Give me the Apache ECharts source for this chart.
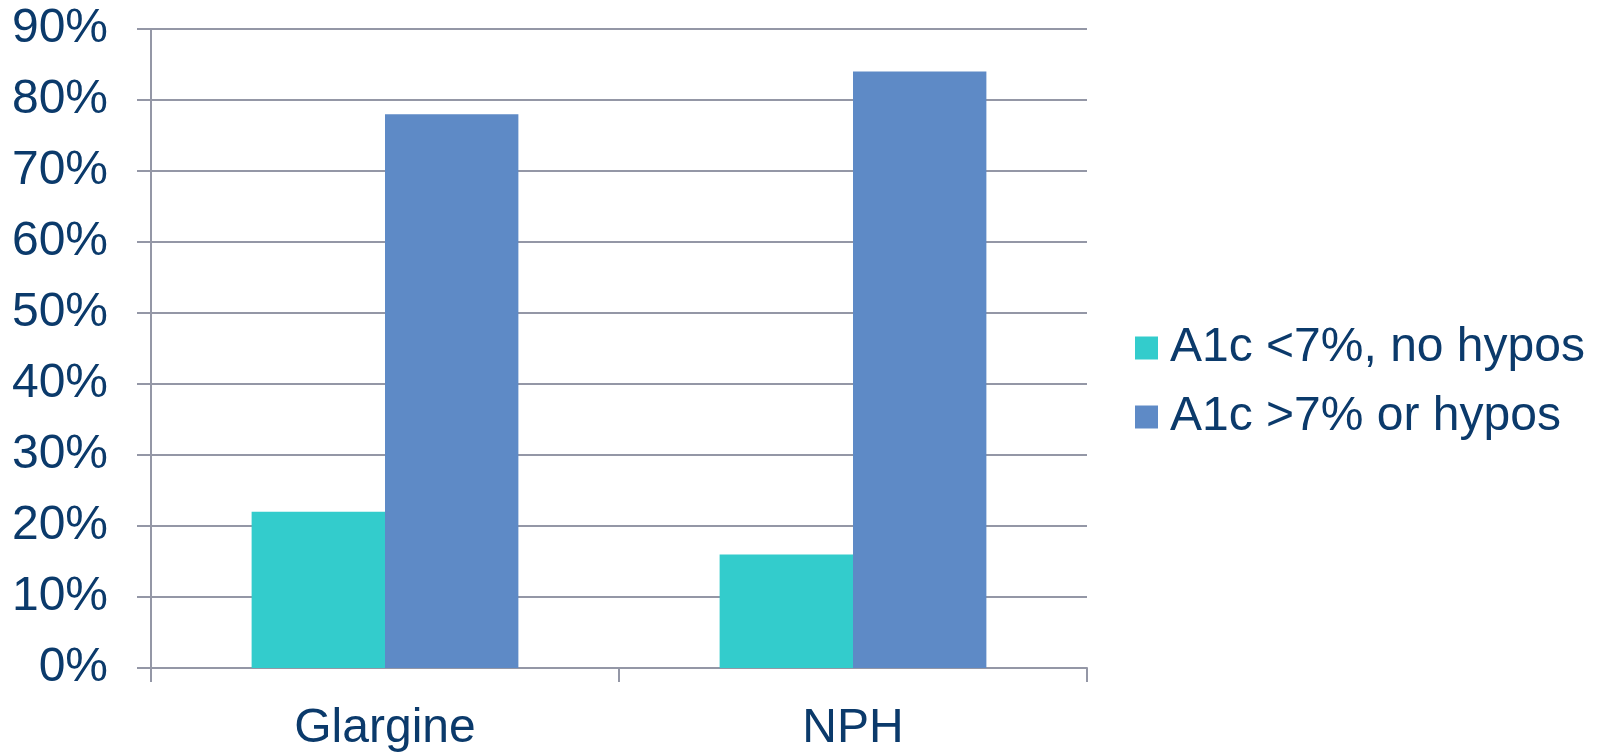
<!DOCTYPE html>
<html>
<head>
<meta charset="utf-8">
<script src="https://cdn.jsdelivr.net/npm/echarts@6/dist/echarts.min.js"></script>
<style>
  html, body { margin: 0; padding: 0; background: #ffffff; }
  #chart { width: 1599px; height: 753px; }
</style>
</head>
<body>
<div id="chart"></div>
<script>
// Share of patients by outcome, per basal insulin
const categories = ['Glargine', 'NPH'];
const seriesNames = ['A1c <7%, no hypos', 'A1c >7% or hypos'];
const onTargetNoHypos = [22, 16];
const aboveTargetOrHypos = [78, 84];
const yTicks = { min: 0, max: 90, interval: 10 };

const textColor = '#0b3a6b';
const lineColor = '#9497a6';
const fontFamily = 'Liberation Sans, Arial, sans-serif';

const chart = echarts.init(document.getElementById('chart'), null, { renderer: 'canvas' });
chart.setOption({
  animation: false,
  backgroundColor: '#ffffff',
  grid: { left: 151, right: 512, top: 29, bottom: 85, containLabel: false },
  legend: {
    orient: 'vertical',
    left: 1130,
    top: 319,
    itemWidth: 23,
    itemHeight: 23,
    itemGap: 21,
    icon: 'rect',
    textStyle: { color: textColor, fontSize: 48, fontFamily: fontFamily, padding: [0, 0, 0, 7] },
    data: seriesNames
  },
  xAxis: {
    type: 'category',
    data: categories,
    axisLine: { show: true, lineStyle: { color: lineColor, width: 2 } },
    axisTick: { show: true, length: 14, alignWithLabel: false, lineStyle: { color: lineColor, width: 2 } },
    axisLabel: { color: textColor, fontSize: 48, fontFamily: fontFamily, margin: 37 },
    splitLine: { show: false }
  },
  yAxis: {
    type: 'value',
    min: yTicks.min,
    max: yTicks.max,
    interval: yTicks.interval,
    axisLine: { show: true, lineStyle: { color: lineColor, width: 2 } },
    axisTick: { show: true, length: 14, lineStyle: { color: lineColor, width: 2 } },
    axisLabel: { color: textColor, fontSize: 48, fontFamily: fontFamily, margin: 43, padding: [4, 0, 0, 0], formatter: '{value}%' },
    splitLine: { show: true, lineStyle: { color: lineColor, width: 2 } }
  },
  series: [
    {
      name: seriesNames[0],
      type: 'bar',
      data: onTargetNoHypos,
      barGap: '0%',
      barCategoryGap: '43%',
      itemStyle: { color: '#33cccc' }
    },
    {
      name: seriesNames[1],
      type: 'bar',
      data: aboveTargetOrHypos,
      barGap: '0%',
      barCategoryGap: '43%',
      itemStyle: { color: '#5e8ac6' }
    }
  ]
});
</script>
</body>
</html>
